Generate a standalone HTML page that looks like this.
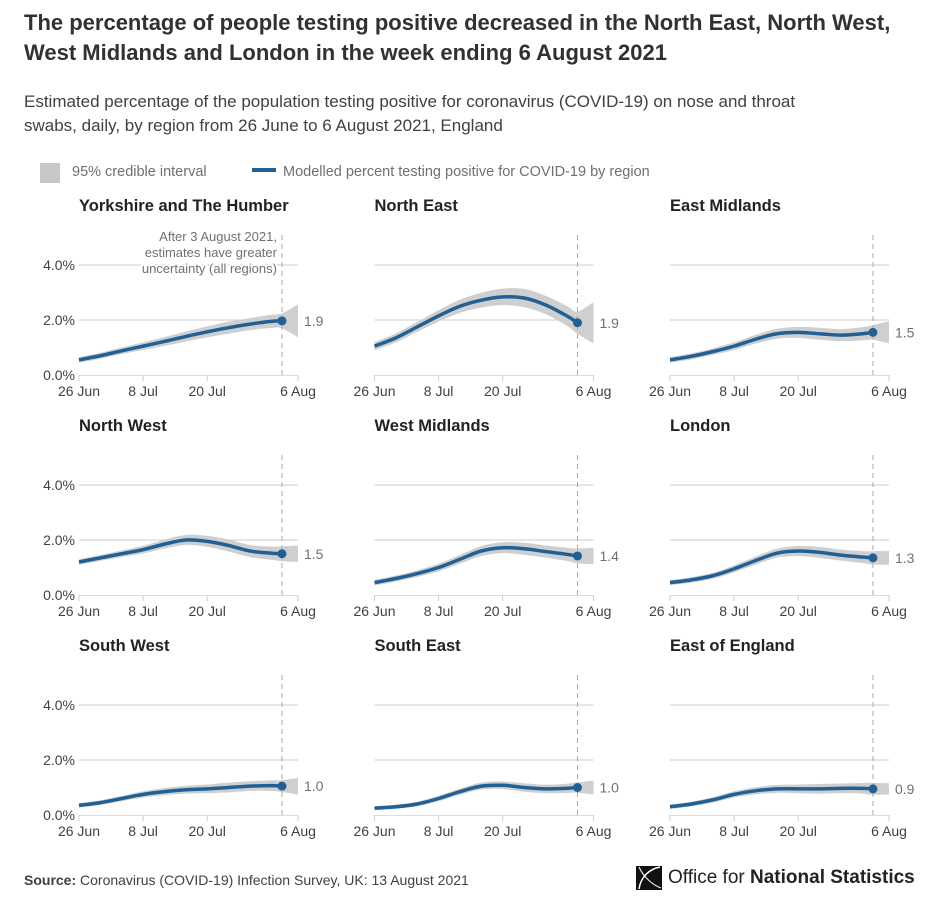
<!DOCTYPE html>
<html><head><meta charset="utf-8">
<style>
body{margin:0;background:#fff;width:942px;height:904px;overflow:hidden;font-family:"Liberation Sans",sans-serif;color:#414042}
#title{position:absolute;left:24px;top:8px;width:870px;font-size:22px;font-weight:bold;color:#323132;line-height:30px;margin:0}
#sub{position:absolute;left:24px;top:90px;width:820px;font-size:17px;line-height:24px;color:#414042;margin:0}
#src{position:absolute;left:24px;top:872px;font-size:14px;color:#414042}
#logo{position:absolute;left:636px;top:866px;font-size:19px;color:#222;display:flex;align-items:center}
svg{position:absolute;left:0;top:0}
</style></head><body>
<h1 id="title">The percentage of people testing positive decreased in the North East, North West, West Midlands and London in the week ending 6 August 2021</h1>
<p id="sub">Estimated percentage of the population testing positive for coronavirus (COVID-19) on nose and throat swabs, daily, by region from 26 June to 6 August 2021, England</p>
<svg id="chart" width="942" height="904"></svg>
<div id="src"><b>Source:</b> Coronavirus (COVID-19) Infection Survey, UK: 13 August 2021</div>
<div id="logo"><svg style="position:static" width="26" height="24" viewBox="0 0 26 24"><path d="M0 0H26V24H0Z" fill="#111"/><path d="M24 1C14 3 5 10 3 23" stroke="#fff" stroke-width="1.5" fill="none"/><path d="M3 1C6 8 14 18 25 22" stroke="#fff" stroke-width="1" fill="none"/></svg><span style="margin-left:6px">Office for <b>National Statistics</b></span></div>
<script>
const regions=["Yorkshire and The Humber","North East","East Midlands","North West","West Midlands","London","South West","South East","East of England"];
const days=[0,4,8,12,16,20,24,28,32,36,38];
const yh=[0.55,0.7,0.88,1.05,1.22,1.4,1.57,1.72,1.85,1.95,1.97];
const ne=[1.05,1.35,1.75,2.15,2.5,2.72,2.84,2.8,2.55,2.15,1.9];
const em=[0.55,0.68,0.85,1.05,1.3,1.5,1.55,1.5,1.45,1.5,1.55];
const nw=[1.2,1.35,1.5,1.65,1.85,2.0,1.95,1.8,1.6,1.52,1.5];
const wm=[0.45,0.6,0.78,1.0,1.3,1.6,1.72,1.68,1.58,1.48,1.42];
const ld=[0.45,0.55,0.7,0.95,1.25,1.52,1.6,1.55,1.45,1.38,1.35];
const sw=[0.35,0.45,0.6,0.75,0.85,0.92,0.95,1.0,1.05,1.07,1.05];
const se=[0.25,0.3,0.4,0.6,0.85,1.05,1.08,1.0,0.95,0.97,1.0];
const ee=[0.3,0.4,0.55,0.75,0.88,0.95,0.95,0.95,0.97,0.97,0.95];
const series=[yh,ne,em,nw,wm,ld,sw,se,ee];
const endLabels=["1.9","1.9","1.5","1.5","1.4","1.3","1.0","1.0","0.9"];
const spreadScale=[1,1.5,1,1,1,0.9,0.8,0.7,0.8];
const spread=[0.1,0.11,0.12,0.14,0.16,0.18,0.2,0.22,0.22,0.24,0.27];
const endSpread=[0.6,0.75,0.4,0.3,0.3,0.25,0.3,0.25,0.2];
const xTicks=[0,12,24,41],xTickLabels=["26 Jun","8 Jul","20 Jul","6 Aug"];
const yTicks=[0,2,4],yTickLabels=["0.0%","2.0%","4.0%"];
const NS="http://www.w3.org/2000/svg",svg=document.getElementById('chart');
function mk(t,a,p){const e=document.createElementNS(NS,t);for(const k in a)e.setAttribute(k,a[k]);(p||svg).appendChild(e);return e;}
function smooth(pts){let d="M"+pts[0][0]+","+pts[0][1];for(let i=0;i<pts.length-1;i++){const p0=pts[Math.max(0,i-1)],p1=pts[i],p2=pts[i+1],p3=pts[Math.min(pts.length-1,i+2)];d+=" C"+(p1[0]+(p2[0]-p0[0])/6)+","+(p1[1]+(p2[1]-p0[1])/6)+" "+(p2[0]-(p3[0]-p1[0])/6)+","+(p2[1]-(p3[1]-p1[1])/6)+" "+p2[0]+","+p2[1];}return d;}
let lg=mk('g',{});
let l1=mk('rect',{x:40,y:163,width:20,height:20,fill:'#c8c8c8'},lg);
let l1t=mk('text',{x:72,y:176,'font-size':14.5,fill:'#707070'},lg);l1t.textContent='95% credible interval';
let l2=mk('line',{x1:252,x2:276,y1:170,y2:170,stroke:'#206095','stroke-width':4},lg);
let l2t=mk('text',{x:283,y:176,'font-size':14.5,fill:'#707070'},lg);l2t.textContent='Modelled percent testing positive for COVID-19 by region';
regions.forEach((name,i)=>{
  const col=i%3,row=Math.floor(i/3),ox=79+col*295.5,oy=375+row*220,W=219/41,H=27.5;
  const X=d=>ox+d*W,Y=v=>oy-v*H;
  const g=mk('g',{});
  const t=mk('text',{x:ox,y:oy-164,'font-size':16.5,'font-weight':'bold',fill:'#222'},g);t.textContent=name;
  yTicks.forEach((v,j)=>{if(v>0){const gl=mk('line',{x1:ox,x2:X(41),y1:Y(v),y2:Y(v),stroke:'#ccc','stroke-width':1},g);}
    if(col==0){const tl=mk('text',{x:ox-4,y:Y(v)+5,'font-size':14,'text-anchor':'end',fill:'#414042'},g);tl.textContent=yTickLabels[j];}});
  const ax=mk('line',{x1:ox,x2:X(41),y1:oy+0.5,y2:oy+0.5,stroke:'#ddd'},g);
  xTicks.forEach((d,j)=>{const tk=mk('line',{x1:X(d),x2:X(d),y1:oy,y2:oy+6,stroke:'#ccc'},g);
    const tl=mk('text',{x:X(d),y:oy+21,'font-size':14,'text-anchor':'middle',fill:'#414042'},g);tl.textContent=xTickLabels[j];});
  const vals=series[i],s=spreadScale[i];
  const hi=days.map((d,k)=>[X(d),Y(vals[k]+spread[k]*s)]);hi.push([X(41),Y(vals[10]+endSpread[i])]);
  const lo=days.map((d,k)=>[X(d),Y(Math.max(0,vals[k]-spread[k]*s))]);lo.push([X(41),Y(Math.max(0,vals[10]-endSpread[i]))]);
  const lor=lo.slice().reverse();const sl=smooth(lor);
  const band=mk('path',{d:smooth(hi)+" L"+lor[0][0]+","+lor[0][1]+sl.slice(sl.indexOf(' C'))+"Z",fill:'#cfcfcf'},g);
  const dl=mk('line',{x1:X(38),x2:X(38),y1:oy-140,y2:oy,stroke:'#aaa','stroke-dasharray':'5,4'},g);
  const ln=mk('path',{d:smooth(days.map((d,k)=>[X(d),Y(vals[k])])),fill:'none',stroke:'#206095','stroke-width':3.5},g);
  const dt=mk('circle',{cx:X(38),cy:Y(vals[10]),r:4.5,fill:'#206095'},g);
  const el=mk('text',{x:X(41)+6,y:Y(vals[10])+5,'font-size':14,fill:'#707070'},g);el.textContent=endLabels[i];
  if(i==0){["After 3 August 2021,","estimates have greater","uncertainty (all regions)"].forEach((s2,k)=>{const a=mk('text',{x:X(38)-5,y:oy-134+k*16,'font-size':13,'text-anchor':'end',fill:'#707070',stroke:'#fff','stroke-width':3,'paint-order':'stroke'},g);a.textContent=s2;});}
});
</script>
</body></html>
